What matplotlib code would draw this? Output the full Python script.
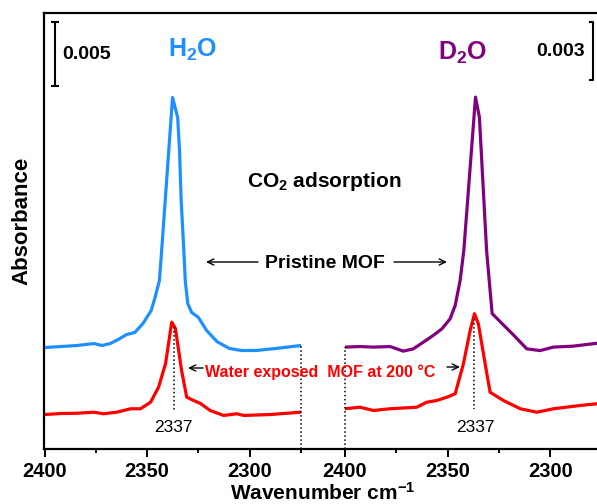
import matplotlib
matplotlib.use('Agg')
import matplotlib.pyplot as plt

plt.rcParams['font.family'] = ['Liberation Sans', 'DejaVu Sans']
plt.rcParams['mathtext.fontset'] = 'custom'
plt.rcParams['mathtext.rm'] = 'Liberation Sans'
plt.rcParams['mathtext.bf'] = 'Liberation Sans:bold'
plt.rcParams['mathtext.it'] = 'Liberation Sans:italic'
plt.rcParams['mathtext.default'] = 'bf'

# ---------------- data (absorbance in units of 1e-3, offset stacked) -------------
# H2O panel, pristine MOF (blue)
h2o_pristine_wn = [2400, 2392, 2384, 2376, 2372, 2368, 2364, 2360, 2356, 2352, 2348,
                   2346, 2344, 2342.9, 2340, 2337.6, 2335.1, 2334.2, 2333.4, 2332.1,
                   2331.4, 2330.2, 2328.3, 2325, 2321, 2316, 2310, 2304, 2297, 2287, 2275]
h2o_pristine = [7.85, 7.93, 8.01, 8.16, 8.01, 8.16, 8.48, 8.86, 9.02, 9.72, 10.73,
                11.82, 13.06, 15.40, 21.93, 27.29, 25.74, 23.17, 19.28, 15.40,
                13.06, 11.28, 10.58, 10.19, 9.18, 8.32, 7.78, 7.62, 7.62, 7.78, 8.01]
# H2O panel, water exposed MOF at 200 C (red)
h2o_exposed_wn = [2400, 2392, 2384.4, 2376, 2371.2, 2364.9, 2358, 2353.2, 2348.3, 2344.4,
                  2341, 2338, 2336.2, 2333.2, 2330.7, 2327.3, 2324, 2319.2, 2312.7,
                  2306.3, 2302.9, 2290, 2275.3]
h2o_exposed = [2.64, 2.72, 2.74, 2.82, 2.70, 2.82, 3.09, 3.09, 3.60, 4.77,
               6.61, 9.82, 9.33, 6.07, 3.99, 3.73, 3.50, 2.95, 2.57,
               2.70, 2.57, 2.64, 2.82]
# D2O panel, pristine MOF (purple)
d2o_pristine_wn = [2400, 2392.7, 2386.2, 2378, 2371.6, 2366.7, 2361.8, 2357, 2352.8, 2348.8,
                   2346.3, 2343.9, 2342.1, 2336.4, 2334.5, 2331.0, 2328.3, 2325, 2317.7,
                   2311.4, 2304.9, 2298.5, 2288.8, 2277.2]
d2o_pristine = [5.28, 5.31, 5.28, 5.31, 5.07, 5.19, 5.54, 5.89, 6.23, 6.75,
                7.45, 8.75, 10.31, 18.30, 17.25, 10.31, 7.03, 6.67, 5.89,
                5.19, 5.10, 5.28, 5.33, 5.48]
# D2O panel, water exposed MOF at 200 C (red)
d2o_exposed_wn = [2400, 2392.7, 2386.2, 2378, 2365, 2360.2, 2355.3, 2350.4, 2346.3, 2342.3,
                  2339, 2336.9, 2335, 2331.7, 2329.3, 2322.8, 2314.6, 2306.5, 2298.4,
                  2285.4, 2277.2]
d2o_exposed = [2.07, 2.15, 1.98, 2.07, 2.15, 2.41, 2.50, 2.67, 2.85, 4.41,
               6.15, 7.02, 6.49, 4.41, 2.93, 2.50, 2.07, 1.89, 2.07,
               2.24, 2.33]

peak_label = "2337"
major_ticks = [2400, 2350, 2300]
minor_ticks_left = [2375, 2325, 2275]
minor_ticks_right = [2375, 2325]
scale_left = 5    # 0.005
scale_right = 3   # 0.003

BLUE = '#1E8FFF'
RED = '#FF0000'
PURPLE = '#800080'

# ---------------- layout helpers ----------------
W, H = 597, 504
fig = plt.figure(figsize=(W / 100, H / 100), dpi=100)


def fx(x):
    return x / W


def fy(y):
    return 1 - y / H


bot_px, top_px = 448.5, 13
ax_h = fy(top_px) - fy(bot_px)

frame = fig.add_axes([fx(44), fy(bot_px), fx(W + 10) - fx(44), ax_h])
frame.set_xticks([])
frame.set_yticks([])
frame.spines['right'].set_visible(False)
for s in ['top', 'left', 'bottom']:
    frame.spines[s].set_linewidth(1.6)
frame.patch.set_alpha(0)

axL = fig.add_axes([fx(44.5), fy(bot_px), fx(301) - fx(44.5), ax_h])
axR = fig.add_axes([fx(345), fy(bot_px), fx(597) - fx(345), ax_h])
axL.set_xlim(2400, 2275)
axR.set_xlim(2400, 2400 - 252 / 2.052)
axL.set_ylim(0, 33.86)
axR.set_ylim(0, 22.68)

for ax, minors in ((axL, minor_ticks_left), (axR, minor_ticks_right)):
    ax.patch.set_alpha(0)
    for s in ax.spines.values():
        s.set_visible(False)
    ax.set_yticks([])
    ax.set_xticks(major_ticks)
    ax.set_xticks(minors, minor=True)
    ax.set_xticklabels([str(t) for t in major_ticks], fontsize=14.5, fontweight='bold')
    ax.tick_params(axis='x', which='major', direction='out', length=5.5, width=1.4, pad=4.5)
    ax.tick_params(axis='x', which='minor', direction='out', length=3, width=1.4)

# curves
axL.plot(h2o_pristine_wn, h2o_pristine, color=BLUE, lw=2.3)
axL.plot(h2o_exposed_wn, h2o_exposed, color=RED, lw=2.3)
axR.plot(d2o_pristine_wn, d2o_pristine, color=PURPLE, lw=2.3)
axR.plot(d2o_exposed_wn, d2o_exposed, color=RED, lw=2.3)

# peak markers
axL.plot([2337, 2337], [9.41, 2.8], ls=':', color='k', lw=1.1)
axR.plot([2337, 2337], [6.77, 2.08], ls=':', color='k', lw=1.1)

# break lines
axL.plot([2275, 2275], [0, h2o_pristine[-1]], ls=':', color='k', lw=1.1, clip_on=False)
axR.plot([2400, 2400], [0, d2o_pristine[0]], ls=':', color='k', lw=1.1, clip_on=False)

# scale bars
axL.errorbar([2394.8], [28.15 + scale_left / 2], yerr=scale_left / 2, color='k',
             lw=1.5, capsize=3.2, capthick=1.5, clip_on=False)
xr = 2278.9
axR.plot([xr + 1.6, xr, xr, xr + 1.6], [19.2, 19.2, 19.2 + scale_right, 19.2 + scale_right],
         color='k', lw=1.5, clip_on=False)

# texts
fig.text(fx(62.5), fy(59.3), '0.005', fontsize=14, fontweight='bold', ha='left', va='baseline')
fig.text(fx(585), fy(55.7), '0.003', fontsize=14, fontweight='bold', ha='right', va='baseline')
fig.text(fx(193), fy(57), 'H$_2$O', fontsize=18, fontweight='bold', color=BLUE,
         ha='center', va='baseline')
fig.text(fx(463), fy(59.5), 'D$_2$O', fontsize=18, fontweight='bold', color=PURPLE,
         ha='center', va='baseline')
fig.text(fx(324), fy(187), 'CO$_2$ adsorption', fontsize=15, fontweight='bold',
         ha='center', va='baseline')
fig.text(fx(325), fy(268.5), 'Pristine MOF', fontsize=14, fontweight='bold',
         ha='center', va='baseline')
fig.text(fx(320), fy(377), 'Water exposed  MOF at 200 °C', fontsize=11.5, fontweight='bold',
         color=RED, ha='center', va='baseline')
fig.text(fx(173), fy(432), peak_label, fontsize=12.5, ha='center', va='baseline')
fig.text(fx(475), fy(432), peak_label, fontsize=12.5, ha='center', va='baseline')

fig.text(fx(323), fy(500), 'Wavenumber cm$^{-1}$', fontsize=15, fontweight='bold',
         ha='center', va='baseline')
fig.text(fx(22), fy(221), 'Absorbance', fontsize=16, fontweight='bold', rotation=90,
         ha='center', va='center')

# arrows
arrow_kw = dict(arrowstyle='->,head_length=0.45,head_width=0.22', lw=1.0, color='k',
                shrinkA=0, shrinkB=0)
for x0, x1, yy in ((258, 206, 262), (394, 447, 262), (203, 188, 368), (447, 460, 367)):
    frame.annotate('', xy=(fx(x1), fy(yy)), xytext=(fx(x0), fy(yy)),
                   xycoords='figure fraction', textcoords='figure fraction',
                   arrowprops=arrow_kw)

fig.savefig('out.png', dpi=100)
